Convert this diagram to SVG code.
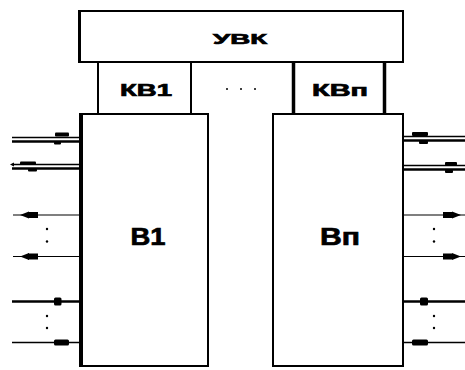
<svg xmlns="http://www.w3.org/2000/svg" width="465" height="370" viewBox="0 0 465 370">
  <style>
    .box { fill: #ffffff; stroke: #000000; stroke-width: 2; }
    .edge { stroke: #000000; fill: none; }
    .lbl { font-family: "Liberation Sans", Arial, sans-serif; font-weight: bold; fill: #000000; stroke: #000000; stroke-width: 0.7; text-anchor: middle; }
    .wire { stroke: #000000; fill: none; }
    .mark { fill: #000000; }
  </style>
  <defs>
    <!-- small filled arrow heads used on the single signal lines -->
    <path id="arrowL" d="M0 0 L9 -3.5 L9 3.5 Z"/>
    <path id="arrowR" d="M0 0 L-9 -3.5 L-9 3.5 Z"/>
  </defs>

  <rect width="465" height="370" fill="#ffffff"/>

  <!-- control unit -->
  <g id="uvk">
    <rect class="box" x="79" y="11" width="324" height="51"/>
    <line class="edge" x1="79.5" y1="10" x2="79.5" y2="63" stroke-width="3"/>
    <text class="lbl" x="240" y="44" font-size="15" textLength="54" lengthAdjust="spacingAndGlyphs">УВК</text>
  </g>

  <!-- channel adapters -->
  <g id="kv1">
    <rect class="box" x="98" y="62" width="93" height="52" stroke-width="1.5"/>
    <text class="lbl" x="146" y="96" font-size="17" textLength="52" lengthAdjust="spacingAndGlyphs">КВ1</text>
  </g>
  <g id="kvn">
    <rect class="box" x="293" y="62" width="92" height="52" stroke-width="1.5"/>
    <line class="edge" x1="293.5" y1="62" x2="293.5" y2="114" stroke-width="3.5"/>
    <line class="edge" x1="384.5" y1="62" x2="384.5" y2="114" stroke-width="3.5"/>
    <text class="lbl" x="340" y="96" font-size="17" textLength="56" lengthAdjust="spacingAndGlyphs">КВп</text>
  </g>
  <g id="gap-dots">
    <circle class="mark" cx="227" cy="89" r="1"/>
    <circle class="mark" cx="241" cy="89" r="1"/>
    <circle class="mark" cx="255" cy="89" r="1"/>
  </g>

  <!-- processing blocks -->
  <g id="b1">
    <rect class="box" x="81" y="114" width="127" height="252" stroke-width="1.8"/>
    <line class="edge" x1="81" y1="113" x2="81" y2="367" stroke-width="4"/>
    <text class="lbl" x="148" y="245" font-size="24" textLength="35" lengthAdjust="spacingAndGlyphs">В1</text>
  </g>
  <g id="bn">
    <rect class="box" x="273" y="114" width="130" height="252" stroke-width="2"/>
    <text class="lbl" x="340" y="245" font-size="24" textLength="40" lengthAdjust="spacingAndGlyphs">Вп</text>
  </g>

  <!-- external connections -->
  <g id="connectors">
    <!-- left side: two double lines -->
    <line class="wire" x1="12" y1="137.5" x2="80" y2="137.5" stroke-width="1.6"/>
    <line class="wire" x1="12" y1="141.5" x2="80" y2="141.5" stroke-width="2.6"/>
    <rect class="mark" x="55" y="132.5" width="14" height="4" rx="1"/>
    <rect class="mark" x="54" y="141.5" width="7" height="3" rx="1"/>

    <line class="wire" x1="12" y1="164.5" x2="80" y2="164.5" stroke-width="1.6"/>
    <line class="wire" x1="12" y1="168.5" x2="80" y2="168.5" stroke-width="2.6"/>
    <rect class="mark" x="20" y="161.5" width="16" height="3.5" rx="1"/>
    <rect class="mark" x="28" y="168.5" width="9" height="3" rx="1"/>
    <path class="mark" d="M10 164.5 L14 162.5 L14 166.5 Z"/>

    <!-- left side: single lines with arrows -->
    <line class="wire" x1="13" y1="215" x2="80" y2="215" stroke-width="1.2"/>
    <use href="#arrowL" x="20" y="215"/>
    <rect class="mark" x="28" y="212" width="10" height="6"/>
    <line class="wire" x1="13" y1="256.5" x2="80" y2="256.5" stroke-width="1.2"/>
    <use href="#arrowL" x="20" y="256.5"/>
    <rect class="mark" x="28" y="253.5" width="10" height="6"/>
    <circle class="mark" cx="47" cy="229" r="1.2"/>
    <circle class="mark" cx="47" cy="241.5" r="1.2"/>

    <!-- left side: plain lines -->
    <line class="wire" x1="12" y1="301.5" x2="80" y2="301.5" stroke-width="2.6"/>
    <rect class="mark" x="54" y="297.5" width="7.5" height="8" rx="1.5"/>
    <line class="wire" x1="12" y1="342.5" x2="80" y2="342.5" stroke-width="1.4"/>
    <rect class="mark" x="54" y="339.5" width="15" height="6" rx="1.5"/>
    <circle class="mark" cx="47" cy="316" r="1.2"/>
    <circle class="mark" cx="47" cy="328" r="1.2"/>

    <!-- right side: two double lines -->
    <line class="wire" x1="403" y1="136.5" x2="465" y2="136.5" stroke-width="1.6"/>
    <line class="wire" x1="403" y1="140.5" x2="465" y2="140.5" stroke-width="2.6"/>
    <rect class="mark" x="412" y="132" width="16" height="4" rx="1"/>
    <rect class="mark" x="419" y="140.5" width="9" height="3.5" rx="1"/>

    <line class="wire" x1="403" y1="165.5" x2="465" y2="165.5" stroke-width="1.6"/>
    <line class="wire" x1="403" y1="169.5" x2="465" y2="169.5" stroke-width="2.6"/>
    <rect class="mark" x="445" y="162" width="12" height="3.5" rx="1"/>
    <rect class="mark" x="445" y="169.5" width="8" height="3.5" rx="1"/>

    <!-- right side: single lines with arrows -->
    <line class="wire" x1="403" y1="215" x2="465" y2="215" stroke-width="1.2"/>
    <rect class="mark" x="443" y="212" width="9" height="6"/>
    <use href="#arrowR" x="461" y="215"/>
    <line class="wire" x1="403" y1="256.5" x2="465" y2="256.5" stroke-width="1.2"/>
    <rect class="mark" x="443" y="253.5" width="9" height="6"/>
    <use href="#arrowR" x="461" y="256.5"/>
    <circle class="mark" cx="434" cy="229" r="1.2"/>
    <circle class="mark" cx="434" cy="241.5" r="1.2"/>

    <!-- right side: plain lines -->
    <line class="wire" x1="403" y1="301.5" x2="465" y2="301.5" stroke-width="2.6"/>
    <rect class="mark" x="420" y="297.5" width="8" height="8" rx="1.5"/>
    <line class="wire" x1="403" y1="342.5" x2="465" y2="342.5" stroke-width="1.4"/>
    <rect class="mark" x="412" y="339.5" width="16" height="6" rx="1.5"/>
    <circle class="mark" cx="434" cy="316" r="1.2"/>
    <circle class="mark" cx="434" cy="328" r="1.2"/>
  </g>
</svg>
